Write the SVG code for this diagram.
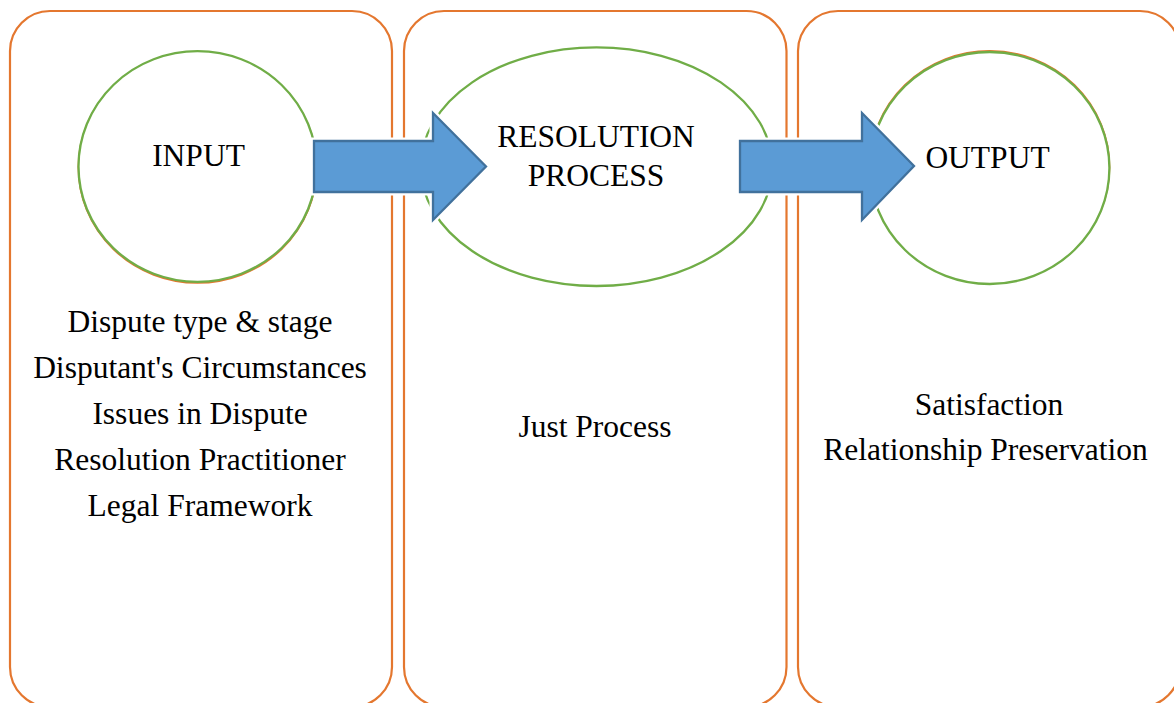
<svg xmlns="http://www.w3.org/2000/svg" width="1174" height="703" viewBox="0 0 1174 703">
  <style>
    .panel { fill: #ffffff; stroke: #E4772F; stroke-width: 2.2; }
    .stage { fill: #ffffff; stroke: #70AD47; stroke-width: 2.3; }
    .rim { fill: none; stroke: #E4772F; stroke-width: 2; }
    .halo { fill: #ffffff; stroke: #ffffff; stroke-width: 7; stroke-linejoin: miter; }
    .arrow { fill: #5B9BD5; stroke: #41719C; stroke-width: 2.3; stroke-linejoin: miter; }
    .label { font-family: 'Liberation Serif', Tinos, 'DejaVu Serif', serif; font-size: 31.5px; fill: #000000; text-anchor: middle; }
  </style>

  <!-- Column panels -->
  <g id="panel-input">
    <rect class="panel" x="10" y="11" width="382" height="696" rx="40" ry="40"/>
  </g>
  <g id="panel-process">
    <rect class="panel" x="404" y="11" width="382.5" height="696" rx="40" ry="40"/>
  </g>
  <g id="panel-output">
    <rect class="panel" x="798" y="11" width="382" height="696" rx="40" ry="40"/>
  </g>

  <!-- Stage ellipses -->
  <g id="input">
    <ellipse class="rim" cx="197.5" cy="167.5" rx="119" ry="115.3"/>
    <ellipse class="stage" cx="197.5" cy="166.5" rx="119" ry="115.3"/>
    <text class="label" x="198.5" y="165.7">INPUT</text>
  </g>
  <g id="resolution-process">
    <ellipse class="stage" cx="596.5" cy="166.7" rx="175.8" ry="119.3"/>
    <text class="label" x="596" y="146.7">RESOLUTION</text>
    <text class="label" x="596" y="185.7">PROCESS</text>
  </g>
  <g id="output">
    <ellipse class="rim" cx="989.7" cy="167" rx="119.7" ry="116"/>
    <ellipse class="stage" cx="989.7" cy="168" rx="119.7" ry="116"/>
    <text class="label" x="987.5" y="167.7">OUTPUT</text>
  </g>

  <!-- Block arrows between stages -->
  <g id="connectors">
    <polygon class="halo" points="314,141 433,141 433,113 486,166.5 433,220 433,192 314,192"/>
    <polygon class="halo" points="740,141 862,141 862,113 914,166 862,220 862,192 740,192"/>
    <polygon class="arrow" points="314,141 433,141 433,113 486,166.5 433,220 433,192 314,192"/>
    <polygon class="arrow" points="740,141 862,141 862,113 914,166 862,220 862,192 740,192"/>
  </g>

  <!-- Column details -->
  <g id="input-factors">
    <text class="label" x="200" y="332.3">Dispute type &amp; stage</text>
    <text class="label" x="200" y="378.3">Disputant's Circumstances</text>
    <text class="label" x="200" y="424">Issues in Dispute</text>
    <text class="label" x="200" y="470">Resolution Practitioner</text>
    <text class="label" x="200" y="515.5">Legal Framework</text>
  </g>
  <g id="process-factors">
    <text class="label" x="595" y="436.7">Just Process</text>
  </g>
  <g id="output-factors">
    <text class="label" x="989" y="415">Satisfaction</text>
    <text class="label" x="985.5" y="460">Relationship Preservation</text>
  </g>
</svg>
